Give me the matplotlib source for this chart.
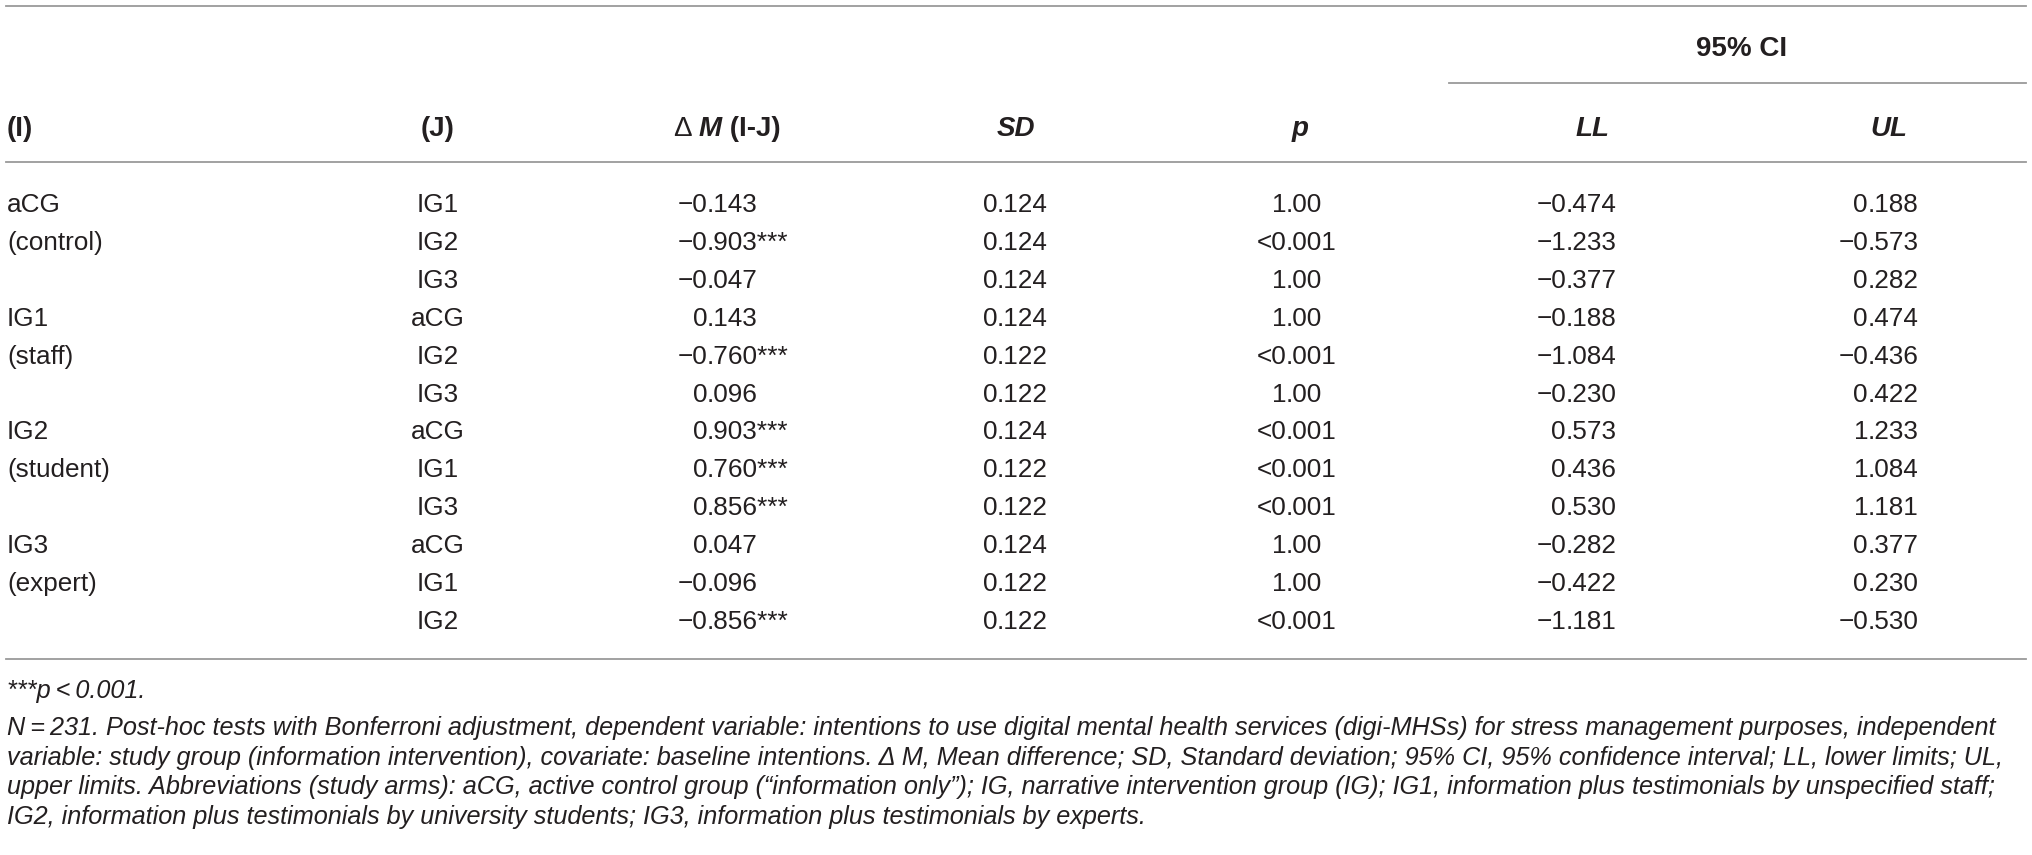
import matplotlib
matplotlib.use("Agg")
import matplotlib.pyplot as plt

# ---- table data ----
groupI = ["aCG", "IG1", "IG2", "IG3"]
groupIdesc = ["(control)", "(staff)", "(student)", "(expert)"]
groupJ = ["IG1", "IG2", "IG3", "aCG", "IG2", "IG3", "aCG", "IG1", "IG3", "aCG", "IG1", "IG2"]
meanDiff = [-0.143, -0.903, -0.047, 0.143, -0.760, 0.096, 0.903, 0.760, 0.856, 0.047, -0.096, -0.856]
sig = [False, True, False, False, True, False, True, True, True, False, False, True]
sdVals = [0.124, 0.124, 0.124, 0.124, 0.122, 0.122, 0.124, 0.122, 0.122, 0.124, 0.122, 0.122]
pVals = ["1.00", "<0.001", "1.00", "1.00", "<0.001", "1.00", "<0.001", "<0.001", "<0.001", "1.00", "1.00", "<0.001"]
lowerLim = [-0.474, -1.233, -0.377, -0.188, -1.084, -0.230, 0.573, 0.436, 0.530, -0.282, -0.422, -1.181]
upperLim = [0.188, -0.573, 0.282, 0.474, -0.436, 0.422, 1.233, 1.084, 1.181, 0.377, 0.230, -0.530]

footnotes = [
    "***p\u2009<\u20090.001.",
    "N\u2009=\u2009231. Post-hoc tests with Bonferroni adjustment, dependent variable: intentions to use digital mental health services (digi-MHSs) for stress management purposes, independent",
    "variable: study group (information intervention), covariate: baseline intentions. \u0394 M, Mean difference; SD, Standard deviation; 95% CI, 95% confidence interval; LL, lower limits; UL,",
    "upper limits. Abbreviations (study arms): aCG, active control group (\u201cinformation only\u201d); IG, narrative intervention group (IG); IG1, information plus testimonials by unspecified staff;",
    "IG2, information plus testimonials by university students; IG3, information plus testimonials by experts.",
]

W, H = 2032, 855
fam = ["Liberation Sans", "DejaVu Sans"]
txtColor = "#231f20"
ruleColor = "#9a9a9a"
bodySize = 18.8
headSize = 20.0

fig = plt.figure(figsize=(W / 100, H / 100), dpi=100)
ax = fig.add_axes([0, 0, 1, 1])
ax.set_xlim(0, W)
ax.set_ylim(H, 0)
ax.axis("off")
renderer = fig.canvas.get_renderer()


def fmt(v):
    return f"{v:.3f}".replace("-", "\u2212")


def textWidth(s, **kw):
    t = ax.text(0, 0, s, family=fam, **kw)
    w = t.get_window_extent(renderer).width
    t.remove()
    return w


def drawRuns(x, y, runs, size, align="center"):
    widths = [textWidth(s, fontsize=size, fontweight=wt, fontstyle=st) for s, wt, st in runs]
    total = sum(widths)
    start = x - total / 2 if align == "center" else x
    for (s, wt, st), w in zip(runs, widths):
        ax.text(start, y, s, family=fam, fontsize=size, fontweight=wt, fontstyle=st,
                color=txtColor, ha="left", va="baseline")
        start += w


def decimalCell(xDot, y, s, suffix=""):
    left, right = s.split(".")
    ax.text(xDot, y, left, family=fam, fontsize=bodySize, color=txtColor, ha="right", va="baseline")
    ax.text(xDot, y, "." + right + suffix, family=fam, fontsize=bodySize, color=txtColor,
            ha="left", va="baseline")


# rules
ax.plot([6, 2026], [6, 6], color=ruleColor, lw=1.3)
ax.plot([1449, 2026], [83, 83], color=ruleColor, lw=1.3)
ax.plot([6, 2026], [162, 162], color=ruleColor, lw=1.3)
ax.plot([6, 2026], [659, 659], color=ruleColor, lw=1.3)

# headers
hb = 136
drawRuns(1742, 56, [("95% CI", "bold", "normal")], headSize)
drawRuns(7, hb, [("(I)", "bold", "normal")], headSize, align="left")
drawRuns(438, hb, [("(J)", "bold", "normal")], headSize)
drawRuns(727, hb, [("\u0394 ", "normal", "normal"), ("M", "bold", "italic"), (" (I-J)", "bold", "normal")], headSize)
drawRuns(1016, hb, [("SD", "bold", "italic")], headSize)
drawRuns(1300, hb, [("p", "bold", "italic")], headSize)
drawRuns(1593, hb, [("LL", "bold", "italic")], headSize)
drawRuns(1889, hb, [("UL", "bold", "italic")], headSize)

# body
rowBase = [212 + 37.9 * i for i in range(len(groupJ))]
for k, (g, d) in enumerate(zip(groupI, groupIdesc)):
    ax.text(7, rowBase[3 * k], g, family=fam, fontsize=bodySize, color=txtColor, va="baseline")
    ax.text(7, rowBase[3 * k + 1], d, family=fam, fontsize=bodySize, color=txtColor, va="baseline")

for i, y in enumerate(rowBase):
    ax.text(438, y, groupJ[i], family=fam, fontsize=bodySize, color=txtColor, ha="center", va="baseline")
    decimalCell(707, y, fmt(meanDiff[i]), "***" if sig[i] else "")
    decimalCell(997, y, fmt(sdVals[i]))
    decimalCell(1286, y, pVals[i])
    decimalCell(1566, y, fmt(lowerLim[i]))
    decimalCell(1868, y, fmt(upperLim[i]))

# footnotes: size chosen so the widest line spans the table width
w15 = textWidth(footnotes[1], fontsize=15, fontstyle="italic")
noteSize = 15 * (2004 - 7) / w15
noteBase = [698, 735, 764.5, 794, 823.5]
for s, y in zip(footnotes, noteBase):
    ax.text(7, y, s, family=fam, fontsize=noteSize, fontstyle="italic", color=txtColor, va="baseline")

fig.savefig("out.png", dpi=100)
